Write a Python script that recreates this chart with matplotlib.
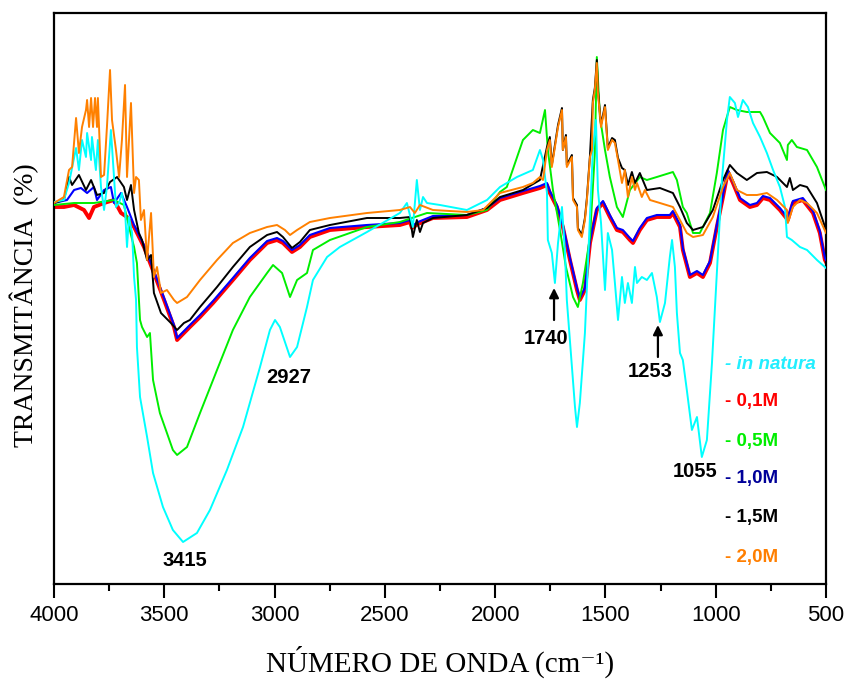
import matplotlib
matplotlib.use("Agg")
import matplotlib.pyplot as plt

# ---------------- data (wavenumber cm-1, transmittance a.u.) ----------------
wn_red = [4000, 3955, 3909, 3864, 3841, 3819, 3773, 3728, 3696, 3669,
          3637, 3592, 3547, 3501, 3456, 3442, 3384, 3338, 3279, 3189,
          3112, 3034, 2989, 2962, 2921, 2885, 2840, 2749, 2581, 2432,
          2386, 2377, 2350, 2282, 2128, 2037, 1978, 1874, 1797, 1765,
          1752, 1720, 1693, 1661, 1629, 1616, 1593, 1570, 1539, 1511,
          1480, 1448, 1421, 1389, 1375, 1344, 1312, 1267, 1208, 1194,
          1162, 1149, 1117, 1085, 1058, 1026, 995, 967, 945, 922,
          890, 845, 813, 786, 754, 709, 673, 650, 605, 559,
          528, 505, 500]
t_red = [75.4, 75.4, 75.8, 74.8, 73.2, 75.4, 76.2, 76.8, 74.2, 73.4,
         71.4, 67.4, 62.2, 56.8, 51.4, 48.8, 51.4, 53.4, 56.2, 60.8,
         64.8, 68.2, 68.8, 68.2, 66.4, 67.4, 69.4, 70.8, 71.4, 71.8,
         72.4, 71.2, 72.0, 73.2, 73.4, 74.8, 76.8, 78.2, 79.2, 79.8,
         78.2, 75.4, 71.4, 64.8, 58.8, 56.8, 58.8, 68.2, 74.8, 76.2,
         73.4, 70.8, 70.4, 68.8, 68.2, 70.8, 72.8, 73.4, 73.4, 74.2,
         71.4, 66.8, 61.4, 62.2, 61.4, 64.2, 71.4, 77.4, 82.4, 80.2,
         76.8, 75.4, 75.8, 77.2, 76.8, 74.8, 72.8, 76.2, 76.8, 74.2,
         70.2, 64.8, 64.4]

wn_blue = [4000, 3941, 3909, 3878, 3850, 3819, 3805, 3773, 3742, 3728,
           3696, 3669,
           3637, 3592, 3547, 3501, 3456, 3442, 3384, 3338, 3279, 3189,
           3112, 3034, 2989, 2962, 2921, 2885, 2840, 2749, 2581, 2432,
           2386, 2377, 2350, 2282, 2128, 2037, 1978, 1874, 1797, 1765,
           1752, 1720, 1693, 1661, 1629, 1616, 1593, 1570, 1539, 1511,
           1480, 1448, 1421, 1389, 1375, 1344, 1312, 1267, 1208, 1194,
           1162, 1149, 1117, 1085, 1058, 1026, 995, 967, 945, 922,
           890, 845, 813, 786, 754, 709, 673, 650, 605, 559,
           528, 505, 500]
t_blue = [76.2, 76.8, 78.8, 79.2, 78.2, 79.4, 76.8, 78.8, 79.4, 76.2,
          78.2, 75.4,
          71.8, 67.8, 62.6, 57.2, 51.8, 49.2, 51.8, 53.8, 56.6, 61.2,
          65.2, 68.6, 69.2, 68.6, 66.8, 67.8, 69.8, 71.2, 71.8, 72.2,
          72.8, 71.6, 72.4, 73.6, 73.8, 75.2, 77.2, 78.6, 79.6, 80.2,
          78.6, 75.8, 71.8, 65.2, 59.2, 57.2, 59.2, 68.6, 75.2, 76.6,
          73.8, 71.2, 70.8, 69.2, 68.6, 71.2, 73.2, 73.8, 73.8, 74.6,
          71.8, 67.2, 61.8, 62.6, 61.8, 64.6, 71.8, 77.8, 82.8, 80.6,
          77.2, 75.8, 76.2, 77.6, 77.2, 75.2, 73.2, 76.6, 77.2, 74.6,
          70.6, 65.2, 64.8]

wn_green = [4000, 3909, 3819, 3728, 3683, 3651, 3637, 3624, 3610, 3601,
            3578, 3565, 3551, 3520, 3488, 3461, 3442, 3397, 3338, 3261,
            3189, 3112, 3034, 3007, 2966, 2930, 2898, 2853, 2826, 2749,
            2581, 2432, 2309, 2128, 2037, 1978, 1947, 1874, 1829, 1797,
            1774, 1761, 1738, 1706, 1679, 1647, 1625, 1602, 1570, 1548,
            1539, 1525, 1502, 1480, 1448, 1421, 1389, 1344, 1312, 1267,
            1194, 1176, 1149, 1131, 1103, 1072, 1026, 995, 967, 936,
            904, 859, 799, 786, 754, 709, 677, 673, 655, 632,
            586, 541, 500]
t_green = [75.8, 76.2, 76.2, 76.8, 75.8, 69.8, 67.4, 64.2, 52.8, 51.4,
           49.4, 50.2, 40.8, 34.2, 30.2, 26.8, 25.8, 27.4, 34.2, 42.8,
           50.8, 57.4, 62.2, 63.8, 62.2, 57.4, 60.8, 62.2, 66.8, 68.8,
           71.4, 72.4, 74.2, 73.8, 74.8, 78.4, 79.4, 88.8, 90.8, 90.2,
           94.8, 86.8, 78.8, 70.8, 63.4, 57.4, 55.4, 60.2, 69.4, 86.2,
           105.4, 93.4, 86.8, 81.4, 75.4, 73.4, 78.8, 81.4, 80.8, 81.4,
           82.4, 80.8, 75.4, 74.2, 70.2, 70.2, 74.2, 82.2, 90.8, 95.4,
           94.8, 94.4, 94.4, 93.4, 90.2, 88.2, 84.8, 87.8, 88.8, 87.4,
           86.8, 83.4, 78.8]

wn_black = [4000, 3955, 3932, 3918, 3887, 3855, 3832, 3805, 3773, 3746,
            3714, 3683, 3669, 3651, 3637, 3615, 3601, 3578, 3560, 3547,
            3515, 3470, 3442, 3411, 3384, 3338, 3261, 3189, 3112, 3034,
            2989, 2962, 2921, 2885, 2840, 2749, 2581, 2432, 2386, 2373,
            2355, 2341, 2327, 2282, 2128, 2037, 1978, 1874, 1797, 1765,
            1752, 1743, 1729, 1715, 1697, 1693, 1679, 1675, 1652, 1647,
            1629, 1625, 1607, 1593, 1584, 1570, 1557, 1548, 1539, 1534,
            1520, 1502, 1489, 1470, 1457, 1443, 1425, 1412, 1398, 1380,
            1366, 1344, 1312, 1253, 1194, 1162, 1131, 1103, 1058, 1013,
            967, 936, 904, 859, 813, 768, 722, 677, 664, 650,
            618, 586, 541, 515, 500]
t_black = [76.2, 76.8, 81.4, 79.8, 81.8, 78.8, 80.8, 77.8, 78.2, 80.4,
           81.4, 79.4, 76.8, 79.8, 74.8, 70.2, 68.8, 64.8, 65.8, 58.2,
           54.2, 52.2, 50.8, 52.2, 52.8, 55.4, 59.4, 63.4, 67.4, 69.8,
           70.4, 69.4, 67.2, 68.4, 70.8, 71.8, 73.2, 73.2, 73.4, 69.4,
           72.8, 70.4, 72.2, 73.2, 73.8, 75.2, 77.4, 78.8, 80.8, 87.4,
           89.4, 83.8, 87.8, 91.8, 95.2, 86.8, 89.8, 83.8, 85.8, 77.2,
           75.8, 71.2, 69.8, 73.2, 77.2, 85.8, 96.8, 99.2, 104.8, 98.8,
           91.8, 95.8, 87.2, 89.2, 88.8, 85.2, 83.2, 82.8, 79.8, 82.4,
           80.2, 82.2, 78.8, 79.2, 78.2, 75.4, 72.2, 70.8, 71.4, 74.8,
           80.8, 83.8, 82.2, 80.8, 82.2, 82.4, 81.4, 79.4, 81.2, 78.8,
           79.8, 79.4, 76.2, 72.8, 70.8]

wn_cyan = [4000, 3955, 3932, 3900, 3887, 3873, 3855, 3850, 3832, 3828,
           3810, 3801, 3787, 3773, 3760, 3742, 3733, 3719, 3705, 3692,
           3678, 3669, 3660, 3646, 3637, 3628, 3624, 3610, 3578, 3551,
           3506, 3461, 3415, 3352, 3293, 3216, 3143, 3066, 3021, 2998,
           2976, 2930, 2898, 2853, 2826, 2762, 2704, 2581, 2432, 2400,
           2373, 2355, 2341, 2327, 2309, 2250, 2128, 2037, 1978, 1901,
           1829, 1797, 1783, 1765, 1761, 1743, 1729, 1715, 1697, 1684,
           1675, 1652, 1638, 1629, 1616, 1593, 1570, 1557, 1543, 1534,
           1520, 1502, 1489, 1470, 1457, 1443, 1425, 1412, 1398, 1380,
           1366, 1357, 1335, 1312, 1289, 1267, 1253, 1230, 1208, 1198,
           1185, 1176, 1162, 1149, 1131, 1108, 1085, 1063, 1040, 1017,
           995, 972, 949, 936, 913, 899, 877, 854, 831, 799,
           768, 740, 709, 686, 677, 655, 618, 586, 541, 505,
           500]
t_cyan = [76.4, 76.8, 80.2, 87.2, 82.8, 88.8, 85.4, 90.2, 84.8, 89.4,
          82.8, 88.8, 79.4, 74.8, 79.4, 90.8, 84.8, 75.4, 76.2, 78.2,
          74.8, 67.4, 73.4, 70.2, 61.4, 56.8, 47.4, 37.4, 29.4, 22.2,
          15.4, 10.8, 8.4, 10.2, 14.8, 22.8, 31.4, 43.4, 50.8, 52.8,
          51.4, 45.4, 47.4, 55.4, 60.8, 65.4, 67.4, 70.4, 74.2, 76.2,
          71.4, 80.8, 74.8, 77.4, 76.2, 75.8, 74.8, 76.8, 79.4, 81.4,
          82.8, 86.8, 84.8, 78.2, 68.8, 66.2, 60.2, 68.2, 75.4, 66.8,
          56.8, 43.4, 35.4, 31.4, 36.2, 50.2, 73.4, 86.8, 92.8, 78.8,
          72.2, 58.8, 70.2, 66.8, 60.2, 52.8, 61.4, 56.2, 60.2, 56.2,
          63.4, 60.2, 61.4, 60.8, 62.2, 57.4, 52.4, 56.2, 65.4, 68.8,
          63.4, 54.2, 46.2, 44.8, 38.8, 30.8, 33.4, 25.4, 28.8, 44.2,
          62.2, 80.8, 92.8, 97.4, 96.2, 93.4, 96.8, 95.4, 92.2, 89.4,
          86.2, 82.8, 79.4, 75.4, 69.4, 68.8, 67.4, 66.8, 64.8, 63.4,
          63.2]

wn_orange = [4000, 3955, 3932, 3918, 3900, 3887, 3873, 3855, 3850, 3841,
             3832, 3823, 3814, 3805, 3801, 3787, 3773, 3760, 3746, 3737,
             3719, 3705, 3692, 3678, 3669, 3651, 3637, 3628, 3615, 3606,
             3592, 3578, 3560, 3547, 3533, 3515, 3488, 3456, 3442, 3397,
             3338, 3261, 3189, 3112, 3034, 2989, 2953, 2930, 2898, 2840,
             2749, 2581, 2432, 2386, 2364, 2341, 2282, 2128, 2055, 1978,
             1874, 1829, 1797, 1783, 1765, 1752, 1743, 1729, 1715, 1697,
             1693, 1679, 1675, 1652, 1647, 1629, 1625, 1607, 1593, 1584,
             1570, 1561, 1557, 1548, 1539, 1534, 1520, 1502, 1489, 1470,
             1457, 1443, 1425, 1412, 1398, 1380, 1366, 1357, 1335, 1321,
             1298, 1253, 1194, 1162, 1131, 1103, 1058, 1013, 967, 936,
             904, 859, 813, 768, 722, 677, 673, 650, 618, 586,
             541, 500]
t_orange = [76.2, 77.4, 82.8, 83.4, 93.2, 86.2, 91.4, 94.8, 96.8, 91.4,
            97.2, 91.4, 97.2, 91.4, 97.2, 81.4, 81.8, 91.4, 102.8, 92.8,
            86.8, 81.4, 88.8, 99.8, 81.4, 96.2, 78.2, 81.4, 80.8, 72.8,
            74.8, 64.8, 74.2, 61.4, 63.4, 58.2, 58.8, 56.8, 56.2, 57.4,
            60.8, 64.8, 68.2, 70.2, 71.4, 71.8, 70.8, 69.8, 70.8, 72.4,
            73.2, 74.2, 74.8, 75.4, 74.2, 75.8, 74.8, 74.4, 74.8, 78.2,
            79.4, 80.2, 81.4, 80.8, 86.8, 88.8, 83.4, 87.4, 91.4, 94.8,
            86.8, 89.4, 83.4, 85.4, 76.8, 75.4, 70.8, 69.4, 72.8, 76.8,
            85.4, 86.8, 96.2, 98.8, 104.2, 98.2, 91.4, 95.4, 86.8, 88.8,
            88.2, 84.8, 80.2, 82.8, 77.4, 81.4, 78.8, 80.2, 77.4, 78.8,
            76.8, 76.2, 75.4, 72.8, 70.2, 69.4, 69.8, 73.4, 79.4, 82.2,
            78.8, 77.8, 77.8, 78.2, 76.8, 74.8, 72.2, 75.4, 76.8, 76.2,
            74.2, 70.2]

labels = ["- in natura", "- 0,1M", "- 0,5M", "- 1,0M", "- 1,5M", "- 2,0M"]
label_colors = ["#22EEFF", "#FF0000", "#00EE00", "#000099", "#000000", "#FF7F00"]

peak_labels = ["3415", "2927", "1740", "1253", "1055"]
peak_text_wn = [3406, 2935, 1770, 1298, 1094]
peak_text_t = [4.8, 41.4, 49.2, 42.6, 22.6]
arrow_wn = [1733, 1262]
arrow_tail = [52.8, 45.4]
arrow_tip = [59.2, 51.8]

xticks = [4000, 3500, 3000, 2500, 2000, 1500, 1000, 500]

# ---------------- figure ----------------
fig = plt.figure(figsize=(8.47, 6.79), dpi=100)
ax = fig.add_axes([54 / 847, 1 - 584 / 679, 772 / 847, 571 / 679])

lw = 1.4
ax.plot(wn_red, t_red, color="#FF0000", lw=2.8, zorder=2)
ax.plot(wn_blue, t_blue, color="#0000FF", lw=1.5, zorder=3)
ax.plot(wn_green, t_green, color="#00EE00", lw=lw, zorder=4)
ax.plot(wn_black, t_black, color="#000000", lw=lw, zorder=5)
ax.plot(wn_cyan, t_cyan, color="#00FFFF", lw=lw, zorder=6)
ax.plot(wn_orange, t_orange, color="#FF8000", lw=lw, zorder=7)

ax.set_xlim(4000, 500)
ax.set_ylim(0, 114.2)
ax.set_xticks(xticks)
ax.set_xticks(range(500, 4001, 250), minor=True)
ax.set_yticks([])
ax.tick_params(axis="x", which="major", direction="out", length=10, width=1.5,
               pad=5, labelsize=16)
ax.tick_params(axis="x", which="minor", direction="out", length=5, width=1.5)
for lab in ax.get_xticklabels():
    lab.set_fontfamily(["Liberation Sans", "DejaVu Sans"])
for sp in ax.spines.values():
    sp.set_linewidth(1.6)

ax.set_xlabel("NÚMERO DE ONDA (cm⁻¹)", fontsize=21,
              fontfamily=["Liberation Serif", "DejaVu Serif"])
ax.xaxis.label.set_va("center")
ax.xaxis.set_label_coords(0.5, -0.137)
ax.set_ylabel("TRANSMITÂNCIA  (%)", fontsize=20,
              fontfamily=["Liberation Serif", "DejaVu Serif"])
ax.yaxis.label.set_va("center")
ax.yaxis.set_label_coords(-0.038, 0.489)

for txt, x, y in zip(peak_labels, peak_text_wn, peak_text_t):
    ax.text(x, y, txt, fontsize=14.5, fontweight="bold", ha="center", va="center",
            fontfamily=["Liberation Sans", "DejaVu Sans"], zorder=10)
for x, t0, t1 in zip(arrow_wn, arrow_tail, arrow_tip):
    ax.annotate("", xy=(x, t1), xytext=(x, t0),
                arrowprops=dict(arrowstyle="-|>", color="black", lw=1.6,
                                mutation_scale=14, shrinkA=0, shrinkB=0),
                zorder=10)

leg_y = [0.385, 0.319, 0.250, 0.184, 0.116, 0.047]
for txt, c, y in zip(labels, label_colors, leg_y):
    style = "italic" if "natura" in txt else "normal"
    ax.text(0.869, y, txt, transform=ax.transAxes, color=c, fontsize=13.5,
            fontweight="bold", fontstyle=style, ha="left", va="center",
            fontfamily=["Liberation Sans", "DejaVu Sans"], zorder=10)

fig.savefig("out.png", dpi=100)
